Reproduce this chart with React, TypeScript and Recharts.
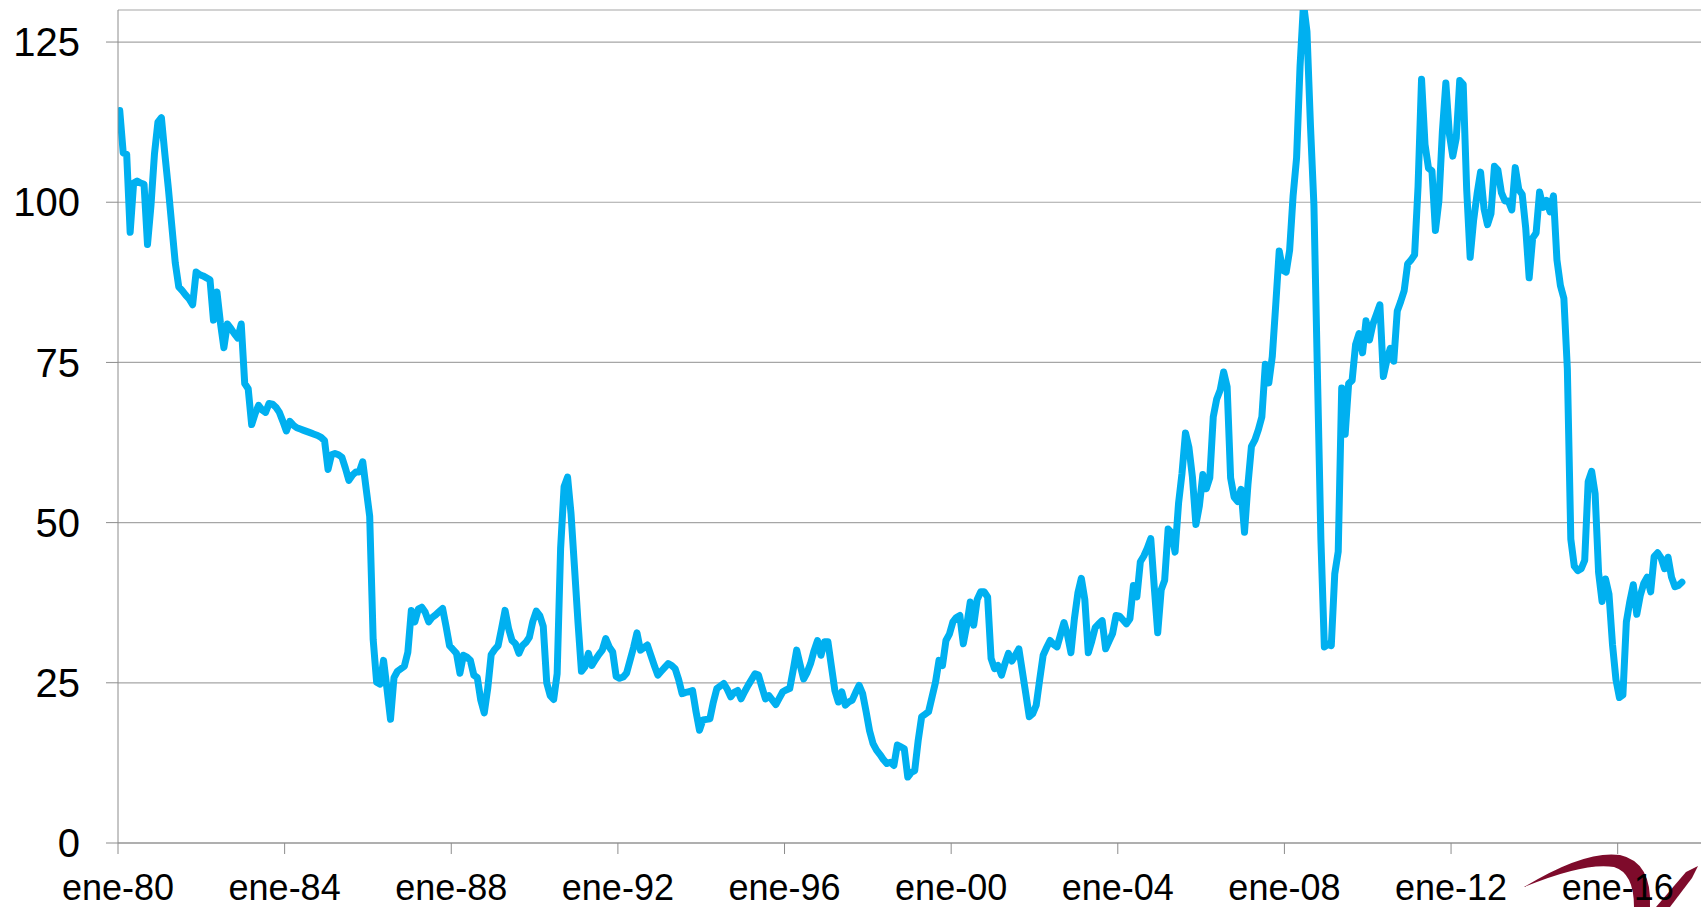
import React from "react";
import { LineChart, Line, XAxis, YAxis, CartesianGrid } from "recharts";

// monthly values, ene-80 onwards
const p1980s = [
  114.3, 107.7, 107.5, 95.3, 103, 103.3, 103, 102.8, 93.4, 99.5, 107.5, 112.5, // 1980
  113.2, 107.5, 102.2, 96.3, 90.5, 86.8, 86.2, 85.5, 84.9, 84, 89.1, 88.7, // 1981
  88.5, 88.2, 87.9, 81.6, 86, 81.2, 77.3, 81, 80.3, 79.5, 78.8, 81, // 1982
  71.7, 70.9, 65.3, 67, 68.3, 67.6, 67.2, 68.6, 68.5, 68, 67.2, 65.8, // 1983
  64.3, 65.8, 65.2, 64.8, 64.6, 64.4, 64.2, 64, 63.8, 63.6, 63.3, 62.8, // 1984
  58.3, 60.6, 60.8, 60.6, 60.2, 58.5, 56.6, 57.4, 57.9, 57.9, 59.5, 55.2, // 1985
  51, 31.8, 25.1, 24.8, 28.5, 24, 19.3, 25.8, 26.8, 27.2, 27.6, 29.8, // 1986
  36.3, 34.5, 36.5, 36.8, 36, 34.5, 35.2, 35.6, 36.1, 36.6, 33.8, 30.8, // 1987
  30.2, 29.6, 26.5, 29.3, 29, 28.5, 26.2, 25.8, 22.3, 20.3, 24.1, 29.4, // 1988
  30.2, 30.8, 33.5, 36.3, 33.5, 31.6, 31.1, 29.6, 30.8, 31.3, 32.1, 34.6, // 1989
];

const p1990s = [
  36.2, 35.5, 33.8, 25, 23, 22.4, 26.4, 46, 55.6, 57.1, 51.4, 43, // 1990
  34.5, 26.8, 27.5, 29.6, 27.7, 28.6, 29.4, 30.1, 31.9, 30.6, 29.8, 26, // 1991
  25.7, 25.9, 26.5, 28.5, 30.5, 32.8, 30.1, 30.5, 30.9, 29.3, 27.7, 26.2, // 1992
  26.8, 27.4, 28, 27.7, 27.2, 25.5, 23.3, 23.5, 23.6, 23.8, 20.5, 17.6, // 1993
  19.2, 19.3, 19.4, 22, 24.1, 24.5, 24.9, 24, 22.8, 23.5, 23.8, 22.5, // 1994
  23.6, 24.6, 25.5, 26.4, 26.2, 24.3, 22.5, 23, 22.3, 21.6, 22.6, 23.6, // 1995
  23.9, 24.1, 27, 30.1, 27.8, 25.6, 26.6, 28, 30, 31.6, 29.3, 31.4, // 1996
  31.4, 27.6, 23.8, 22, 23.6, 21.5, 22, 22.3, 23.5, 24.6, 23.3, 20.5, // 1997
  17.5, 15.5, 14.5, 13.8, 13, 12.4, 12.6, 12.1, 15.3, 15, 14.7, 10.3, // 1998
  11, 11.3, 16, 19.7, 20.1, 20.5, 22.8, 25.1, 28.5, 27.7, 31.6, 32.6, // 1999
];

const p2000s = [
  34.5, 35.2, 35.5, 31.1, 34, 37.6, 34, 38, 39.2, 39.2, 38.4, 28.8, // 2000
  27.2, 27.7, 26.2, 28, 29.6, 28.4, 29.3, 30.3, 26.8, 23.3, 19.7, 20.2, // 2001
  21.5, 25.5, 29.3, 30.5, 31.6, 31, 30.6, 32.5, 34.4, 32.5, 29.7, 35, // 2002
  39, 41.3, 38, 29.7, 31.5, 33.6, 34.2, 34.7, 30.3, 31.5, 32.7, 35.5, // 2003
  35.4, 34.8, 34.2, 35, 40.2, 38.4, 43.9, 44.8, 46, 47.5, 40, 32.8, // 2004
  39.5, 41, 49, 48.4, 45.4, 53, 57.7, 64, 61.7, 57.1, 49.7, 52.6, // 2005
  57.5, 55.3, 57, 66.5, 69.3, 70.7, 73.5, 71.2, 57, 54, 53.3, 55.2, // 2006
  48.5, 56, 61.9, 62.9, 64.5, 66.5, 74.7, 71.8, 75.9, 84, 92.4, 89.4, // 2007
  89.1, 92.5, 101, 106.9, 121.2, 131, 126.6, 112, 99.5, 73.5, 47.5, 30.6, // 2008
  31, 30.8, 42, 45.5, 71, 63.8, 71.7, 72.2, 77.8, 79.5, 76.5, 81.5, // 2009
];

const p2010s = [
  78.5, 81, 82.5, 84, 72.8, 75.3, 77.2, 75.2, 83, 84.5, 86.2, 90.4, // 2010
  91, 91.8, 102.5, 119.2, 109, 105.3, 104.9, 95.6, 100.2, 111, 118.6, 110.7, // 2011
  107.2, 110, 119, 118.4, 102, 91.4, 97.2, 101.3, 104.7, 99, 96.5, 98.2, // 2012
  105.6, 105, 101.5, 100.2, 100.2, 98.8, 105.4, 102, 101.2, 96, 88.2, 94.4, // 2013
  95.2, 101.6, 99.2, 100.3, 98.5, 101, 91, 87, 85, 74, 47.4, 43.2, // 2014
  42.5, 42.8, 44.1, 56.4, 58, 54.5, 42.2, 37.7, 41.2, 38.8, 31, 25.5, // 2015
  22.7, 23.1, 34.5, 37.7, 40.3, 35.7, 38.6, 40.5, 41.5, 39.2, 44.7, 45.3, // 2016
  44.5, 42.8, 44.6, 41.5, 40, 40.2, 40.7, // 2017
];

const yTicks = [0, 25, 50, 75, 100, 125];
const xTickLabels = [
  "ene-80", "ene-84", "ene-88", "ene-92", "ene-96",
  "ene-00", "ene-04", "ene-08", "ene-12", "ene-16",
];

const MONTHS_ON_AXIS = 456; // ene-80 .. dic-17
const monthly = [...p1980s, ...p1990s, ...p2000s, ...p2010s];
// each month sits in the middle of its slot on the date axis
const data = monthly.map((v, i) => ({ t: i + 0.5, v }));
const xTicks = xTickLabels.map((_, i) => i * 48);

const FONT = "'Liberation Sans', Arial, Helvetica, sans-serif";
const LOGO_RED = "#7E0B2B";

export default function App() {
  return (
    <div
      style={{
        position: "absolute",
        left: 0,
        top: 0,
        width: 1708,
        height: 907,
        background: "#ffffff",
        fontFamily: FONT,
        overflow: "hidden",
      }}
    >
      {/* logo swoosh in the corner, behind the axis text */}
      <svg width={1708} height={907} style={{ position: "absolute", left: 0, top: 0 }}>
        <path
          d="M1524,887 Q1585,850 1620,855 Q1652,862 1650,907 L1634,907 Q1634,873 1614,867 Q1585,862 1524,887 Z"
          fill={LOGO_RED}
        />
        <path
          d="M1656,907 L1686,872 L1698,866 L1692,878 L1670,907 Z"
          fill={LOGO_RED}
        />
      </svg>
      <div style={{ position: "absolute", left: 0, top: 0 }}>
        <LineChart
          width={1708}
          height={907}
          data={data}
          margin={{ top: 10, right: 7, bottom: 0, left: 0 }}
        >
          <CartesianGrid vertical={false} stroke="#A6A6A6" strokeWidth={1.2} />
          <XAxis
            type="number"
            dataKey="t"
            domain={[0, MONTHS_ON_AXIS]}
            ticks={xTicks}
            interval={0}
            allowDataOverflow
            tickFormatter={(t: number) => xTickLabels[Math.round(t / 48)]}
            height={64}
            tickSize={11}
            tickMargin={20}
            stroke="#8C8C8C"
            tick={{ fill: "#000000", fontSize: 36, fontFamily: FONT }}
          />
          <YAxis
            type="number"
            domain={[0, 130]}
            ticks={yTicks}
            interval={0}
            allowDataOverflow
            width={118}
            tickSize={12}
            tickMargin={26}
            stroke="#8C8C8C"
            tick={{ fill: "#000000", fontSize: 40, fontFamily: FONT }}
          />
          <Line
            type="linear"
            dataKey="v"
            stroke="#00B0F0"
            strokeWidth={7}
            strokeLinejoin="round"
            strokeLinecap="round"
            dot={false}
            activeDot={false}
            isAnimationActive={false}
          />
        </LineChart>
      </div>
    </div>
  );
}
